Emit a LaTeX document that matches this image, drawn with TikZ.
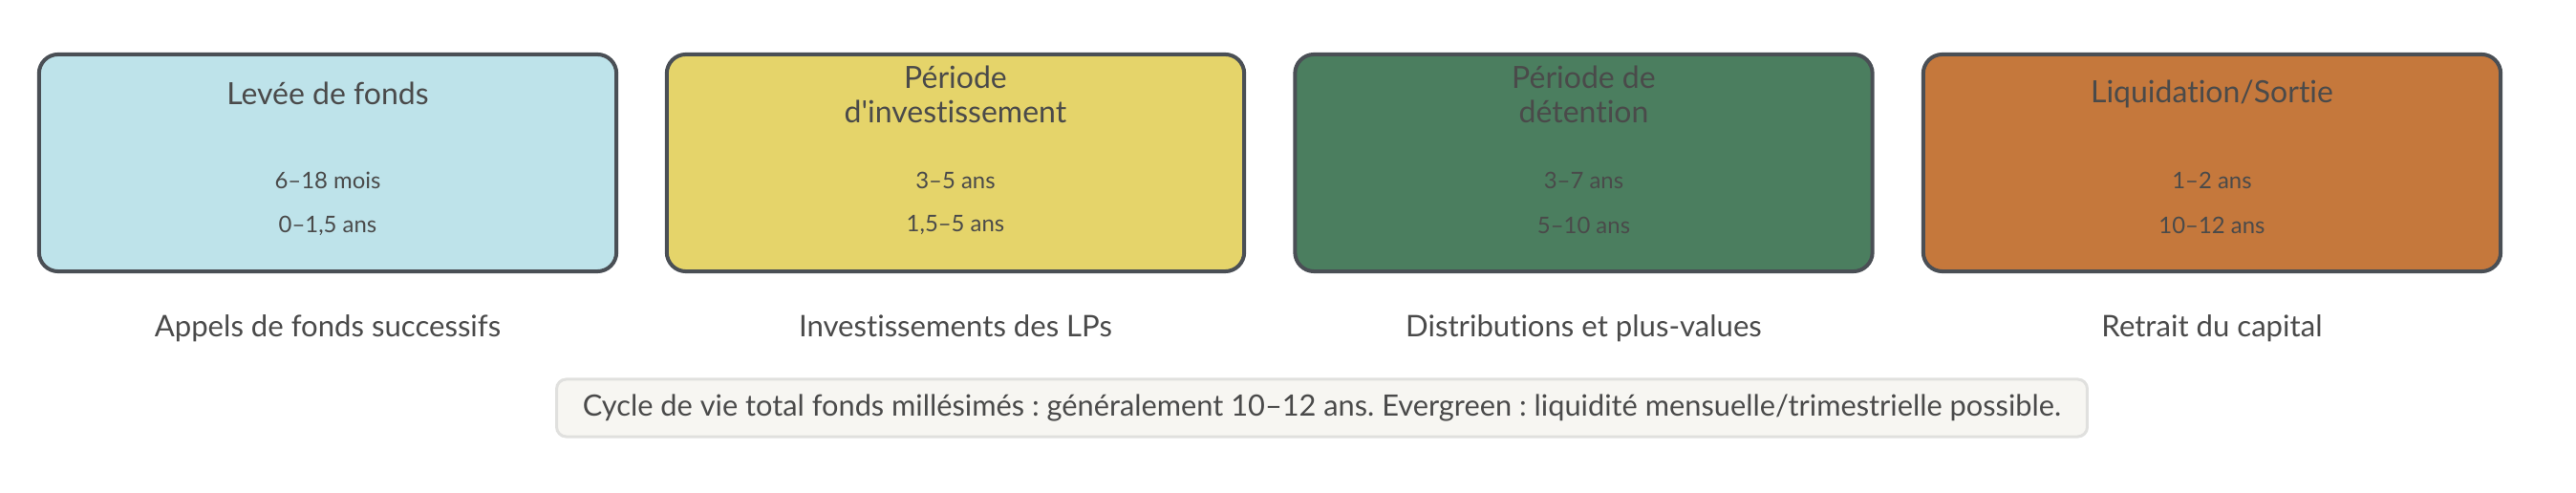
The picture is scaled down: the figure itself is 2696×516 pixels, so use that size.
\documentclass[tikz,border=0pt]{standalone}
\usepackage{fontspec}
\setmainfont[Ligatures={NoCommon,TeXOff}]{Lato}
\definecolor{txt}{HTML}{4A4A4A}
\definecolor{bord}{HTML}{4A4F55}
\definecolor{cblue}{HTML}{BEE3EA}
\definecolor{cyellow}{HTML}{E5D46A}
\definecolor{cgreen}{HTML}{4B7E5F}
\definecolor{corange}{HTML}{C5783C}
\definecolor{notefill}{HTML}{F7F6F2}
\definecolor{noteborder}{HTML}{E0E0DE}
\frenchspacing
\tikzset{
  phase/.style={draw=bord, line width=0.04cm, rounded corners=0.2cm, minimum width=6.04cm, minimum height=2.27cm, inner sep=0pt},
  ttl/.style={text=txt, font=\fontsize{9.1pt}{11pt}\selectfont, align=center, inner sep=0pt},
  dur/.style={text=txt, font=\fontsize{6.8pt}{8pt}\selectfont, inner sep=0pt},
  lbl/.style={text=txt, font=\fontsize{8.85pt}{10pt}\selectfont, inner sep=0pt},
  note/.style={draw=noteborder, fill=notefill, line width=0.03cm, rounded corners=0.1cm, minimum width=16.01cm, minimum height=0.6cm, text=txt, font=\fontsize{8.75pt}{10pt}\selectfont}
}
\begin{document}
\begin{tikzpicture}[x=0.01cm, y=-0.01cm]
\useasboundingbox (0,0) rectangle (2696,516);
% boxes
\node[phase, fill=cblue]   (b1) at (343,170.5) {};
\node[phase, fill=cyellow] (b2) at (1000,170.5) {};
\node[phase, fill=cgreen]  (b3) at (1657.5,170.5) {};
\node[phase, fill=corange] (b4) at (2315,170.5) {};
% titles
\node[ttl] (t1) at (343,98) {Levée de fonds};
\node[ttl] (t2a) at (1000,81) {Période};
\node[ttl] (t2b) at (1000,117) {d'investissement};
\node[ttl] (t3a) at (1657.5,81) {Période de};
\node[ttl] (t3b) at (1657.5,117) {détention};
\node[ttl] (t4) at (2315,98) {Liquidation/Sortie};
% durations
\node[dur] (d1a) at (343,189) {6–18 mois};
\node[dur] (d1b) at (343,236) {0–1,5 ans};
\node[dur] (d2a) at (1000,189) {3–5 ans};
\node[dur] (d2b) at (1000,236) {1,5–5 ans};
\node[dur] (d3a) at (1657.5,189) {3–7 ans};
\node[dur] (d3b) at (1657.5,236) {5–10 ans};
\node[dur] (d4a) at (2315,189) {1–2 ans};
\node[dur] (d4b) at (2315,236) {10–12 ans};
% labels
\node[lbl] (l1) at (343,344) {Appels de fonds successifs};
\node[lbl] (l2) at (1000,341) {Investissements des LPs};
\node[lbl] (l3) at (1657.5,344) {Distributions et plus-values};
\node[lbl] (l4) at (2315,344) {Retrait du capital};
% note
\node[note] (n) at (1383.5,427) {Cycle de vie total fonds millésimés : généralement 10–12 ans. Evergreen : liquidité mensuelle/trimestrielle possible.};
\end{tikzpicture}
\end{document}
